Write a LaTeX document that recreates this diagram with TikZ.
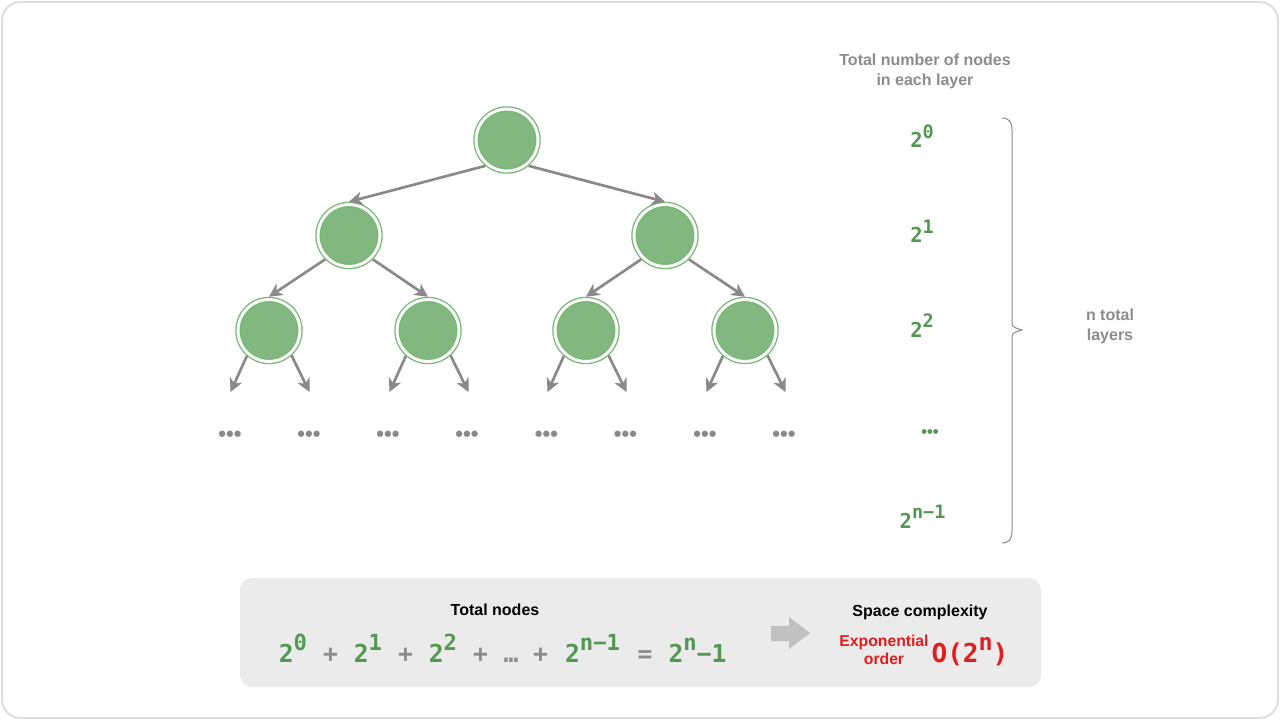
\documentclass[tikz,border=0pt]{standalone}
\usepackage{fontspec}
\setmainfont{Liberation Sans}
\newfontfamily\monofam{DejaVu Sans Mono}
\usetikzlibrary{arrows.meta}
\definecolor{nodefill}{RGB}{130,184,128}
\definecolor{nodering}{RGB}{118,184,116}
\definecolor{edgegray}{RGB}{137,137,137}
\definecolor{powgreen}{RGB}{82,152,82}
\definecolor{labelgray}{RGB}{140,140,140}
\definecolor{boxgray}{RGB}{235,235,235}
\definecolor{framegray}{RGB}{222,222,222}
\definecolor{blockgray}{RGB}{192,192,192}
\definecolor{hintred}{RGB}{228,28,28}
\newcommand{\sq}[2]{#1\raisebox{0.46em}{\scalebox{0.9}{#2}}}
\tikzset{
  treenode/.style={circle, fill=nodefill, draw=nodering, double=white, double distance=2.2pt, line width=1pt, minimum size=46.4pt, inner sep=0pt, outer sep=2.1pt},
  treeedge/.style={draw=edgegray, line width=2pt, -{Stealth[length=10pt,width=10pt,inset=3pt]}},
  leafdots/.style={text=edgegray, font=\bfseries\fontsize{16.5}{16.5}\selectfont},
  graytext/.style={text=labelgray, font=\bfseries\fontsize{12}{15}\selectfont, align=center},
  powsmall/.style={text=powgreen, font=\monofam\bfseries\fontsize{15.4}{15.4}\selectfont, anchor=base},
  powbig/.style={text=powgreen, font=\monofam\bfseries\fontsize{18.5}{18.5}\selectfont, anchor=base},
  opsign/.style={text=labelgray, font=\monofam\bfseries\fontsize{18.5}{18.5}\selectfont, anchor=base},
}
\begin{document}
\begin{tikzpicture}[x=0.75pt, y=-0.75pt]
\useasboundingbox (0,0) rectangle (1280,720);
\fill[white] (0,0) rectangle (1280,720);
\draw[framegray, line width=1.5pt, rounded corners=14pt] (2,2) rectangle (1278,718); % frame
% tree
\node[treenode] (root) at (507,140) {}; % root
\node[treenode] (la) at (349,235.5) {}; % layer 1
\node[treenode] (lb) at (665,235.5) {};
\node[treenode] (laa) at (269,330.5) {}; % layer 2
\node[treenode] (lab) at (428,330.5) {};
\node[treenode] (lba) at (586,330.5) {};
\node[treenode] (lbb) at (745,330.5) {};
\draw[treeedge] (root.230) -- (la.north); % root.left
\draw[treeedge] (root.310) -- (lb.north); % root.right
\draw[treeedge] (la.225) -- (laa.north); % la.left
\draw[treeedge] (la.315) -- (lab.north); % la.right
\draw[treeedge] (lb.225) -- (lba.north); % lb.left
\draw[treeedge] (lb.315) -- (lbb.north); % lb.right
% leaf ends
\coordinate (t1) at (230.5,392); \coordinate (t2) at (309.5,392);
\coordinate (t3) at (389.5,392); \coordinate (t4) at (468.5,392);
\coordinate (t5) at (547.5,392); \coordinate (t6) at (626.5,392);
\coordinate (t7) at (706.5,392); \coordinate (t8) at (785.5,392);
\draw[treeedge] (laa.229) -- (t1); \draw[treeedge] (laa.312) -- (t2); % laa
\draw[treeedge] (lab.229) -- (t3); \draw[treeedge] (lab.312) -- (t4); % lab
\draw[treeedge] (lba.229) -- (t5); \draw[treeedge] (lba.312) -- (t6); % lba
\draw[treeedge] (lbb.229) -- (t7); \draw[treeedge] (lbb.312) -- (t8); % lbb
\node[leafdots] (d1) at (230,436) {•••};
\node[leafdots] (d2) at (309,436) {•••};
\node[leafdots] (d3) at (388,436) {•••};
\node[leafdots] (d4) at (467,436) {•••};
\node[leafdots] (d5) at (546.5,436) {•••};
\node[leafdots] (d6) at (625.5,436) {•••};
\node[leafdots] (d7) at (705,436) {•••};
\node[leafdots] (d8) at (784,436) {•••};
% layer counts
\node[graytext, anchor=base] (head) at (925,86) {Total number of nodes\\in each layer};
\node[powsmall] (p0) at (922,148) {\sq{2}{0}};
\node[powsmall] (p1) at (922,242.7) {\sq{2}{1}};
\node[powsmall] (p2) at (922,337) {\sq{2}{2}};
\node[text=powgreen, font=\bfseries\fontsize{12.5}{12.5}\selectfont] (pdots) at (930,433.5) {•••};
\node[powsmall] (pn) at (922.5,528) {\sq{2}{n−1}};
\draw[labelgray, line width=0.75pt] (1002,118) .. controls (1009,118) and (1012,122) .. (1012,130) -- (1012,320) .. controls (1012,327) .. (1022,330) .. controls (1012,333) .. (1012,340) -- (1012,531) .. controls (1012,539) and (1009,543) .. (1002,543); % brace
\node[graytext, anchor=base] (layers) at (1110,340.5) {n total\\layers};
% sum box
\fill[boxgray, rounded corners=9pt] (240,578) rectangle (1041,687); % box
\node[font=\bfseries\fontsize{12}{15}\selectfont, anchor=base] (sumhead) at (495,615.7) {Total nodes};
\node[powbig] (s0) at (293,662) {\sq{2}{0}};
\node[opsign] (o1) at (330.5,662) {+};
\node[powbig] (s1) at (368,662) {\sq{2}{1}};
\node[opsign] (o2) at (405.5,662) {+};
\node[powbig] (s2) at (443,662) {\sq{2}{2}};
\node[opsign] (o3) at (480.5,662) {+};
\node[opsign] (sdots) at (511,662) {…};
\node[opsign] (o4) at (540.5,662) {+};
\node[powbig] (sn) at (592.5,662) {\sq{2}{n−1}};
\node[opsign] (eq) at (645,662) {=};
\node[powbig] (res) at (697.5,662) {\sq{2}{n}−1};
\fill[blockgray] (771,626) -- (789,626) -- (789,617) -- (810,633) -- (789,649) -- (789,641) -- (771,641) -- cycle; % block arrow
\node[font=\bfseries\fontsize{12}{15}\selectfont, anchor=base] (spacehead) at (920,616) {Space complexity};
\node[text=hintred, font=\bfseries\fontsize{11.8}{13.5}\selectfont, align=center, anchor=base] (order) at (884,664) {Exponential\\order};
\node[text=hintred, font=\monofam\bfseries\fontsize{19.5}{19.5}\selectfont, anchor=base] (bigo) at (970,662) {O(\sq{2}{n})};
\end{tikzpicture}
\end{document}
